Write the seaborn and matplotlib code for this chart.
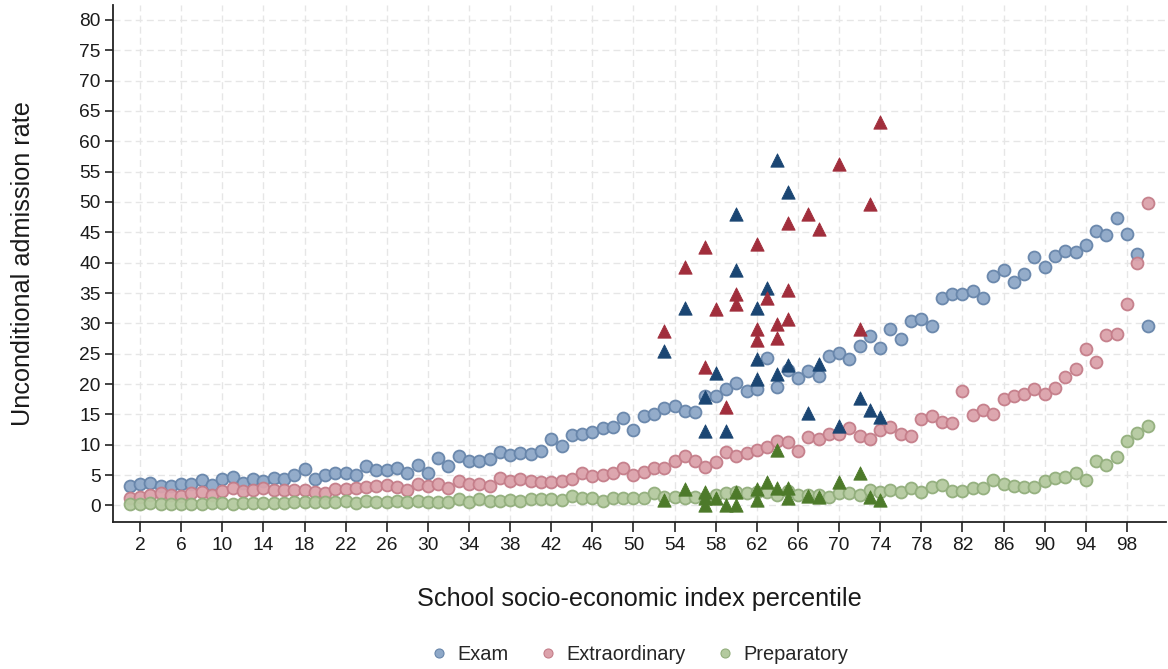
import matplotlib
matplotlib.use("Agg")
import matplotlib.pyplot as plt
from matplotlib.lines import Line2D
import numpy as np
import pandas as pd
import seaborn as sns

# School socio-economic index percentile (1..100)
percentile = list(range(1, 101))

# Unconditional admission rate by track, one value per percentile
exam = [3.2, 3.5, 3.7, 3.2, 3.2, 3.5, 3.6, 4.2, 3.3, 4.3,
        4.7, 3.7, 4.3, 4.0, 4.5, 4.3, 5.0, 6.0, 4.4, 5.0,
        5.4, 5.3, 5.0, 6.5, 5.8, 5.8, 6.2, 5.4, 6.6, 5.4,
        7.8, 6.5, 8.2, 7.3, 7.4, 7.6, 8.8, 8.3, 8.7, 8.4,
        8.9, 10.9, 9.8, 11.6, 11.8, 12.1, 12.7, 12.9, 14.4, 12.4,
        14.8, 15.1, 16.1, 16.4, 15.5, 15.4, 18.1, 18.0, 19.2, 20.2,
        18.8, 19.2, 24.3, 19.5, 22.4, 21.0, 22.2, 21.4, 24.7, 25.1,
        24.2, 26.2, 28.0, 26.0, 29.1, 27.4, 30.4, 30.8, 29.5, 34.2,
        34.8, 34.9, 35.3, 34.2, 37.8, 38.8, 36.9, 38.1, 41.0, 39.3,
        41.1, 41.9, 41.8, 42.9, 45.2, 44.6, 47.3, 44.8, 41.4, 29.6]

extraordinary = [1.2, 1.4, 1.8, 2.0, 1.8, 1.5, 2.1, 2.3, 1.8, 2.4,
                 2.8, 2.4, 2.5, 2.8, 2.5, 2.5, 2.6, 2.6, 2.3, 2.1,
                 2.7, 2.7, 2.9, 3.1, 3.2, 3.3, 3.1, 2.5, 3.5, 3.2,
                 3.5, 2.9, 4.0, 3.6, 3.6, 3.2, 4.6, 4.1, 4.3, 4.0,
                 3.8, 3.9, 4.0, 4.4, 5.4, 4.9, 5.0, 5.4, 6.1, 5.1,
                 5.5, 6.2, 6.2, 7.3, 8.2, 7.3, 6.4, 7.1, 8.8, 8.2,
                 8.7, 9.2, 9.6, 10.7, 10.5, 9.0, 11.3, 11.0, 11.8, 11.8,
                 12.7, 11.5, 10.9, 12.4, 12.9, 11.8, 11.4, 14.2, 14.8, 13.7,
                 13.6, 18.8, 14.9, 15.8, 15.1, 17.5, 18.1, 18.4, 19.2, 18.3,
                 19.3, 21.1, 22.5, 25.8, 23.6, 28.1, 28.3, 33.2, 39.9, 49.8]

preparatory = [0.2, 0.3, 0.4, 0.3, 0.3, 0.2, 0.2, 0.3, 0.4, 0.4,
               0.3, 0.4, 0.4, 0.4, 0.4, 0.4, 0.5, 0.5, 0.5, 0.5,
               0.6, 0.7, 0.4, 0.7, 0.6, 0.6, 0.7, 0.5, 0.8, 0.6,
               0.6, 0.6, 1.0, 0.6, 1.0, 0.7, 0.8, 0.9, 0.8, 1.0,
               1.0, 1.0, 0.9, 1.6, 1.2, 1.2, 0.7, 1.2, 1.3, 1.2,
               1.2, 2.0, 1.4, 1.4, 1.3, 1.4, 1.2, 1.8, 2.1, 2.3,
               2.0, 2.3, 2.3, 1.8, 2.4, 1.7, 1.8, 1.7, 1.4, 2.0,
               2.0, 1.7, 2.5, 2.3, 2.5, 2.3, 2.8, 2.3, 3.0, 3.3,
               2.4, 2.4, 2.8, 2.8, 4.2, 3.5, 3.2, 3.1, 3.1, 4.0,
               4.6, 4.7, 5.3, 4.2, 7.3, 6.6, 8.0, 10.6, 12.0, 13.1]

# Individual schools shown as triangles
exam_tri_pct = [53, 55, 57, 57, 58, 59, 60, 60, 62, 62, 62, 63, 64, 64,
                65, 65, 67, 68, 70, 72, 73, 74]
exam_tri = [25.5, 32.6, 17.9, 12.2, 21.8, 12.2, 48.0, 38.8, 32.6, 24.2, 20.9,
            35.8, 56.9, 21.7, 51.7, 23.2, 15.2, 23.3, 13.1, 17.7, 15.8, 14.5]

extra_tri_pct = [53, 55, 57, 57, 58, 59, 60, 60, 62, 62, 62, 63, 64, 64,
                 65, 65, 65, 67, 68, 70, 72, 73, 74]
extra_tri = [28.8, 39.3, 42.6, 22.8, 32.4, 16.2, 34.9, 33.2, 43.0, 29.1, 27.3,
             34.1, 29.9, 27.6, 46.6, 35.5, 30.7, 48.0, 45.5, 56.3, 29.1, 49.6, 63.2]

prep_tri_pct = [53, 55, 57, 57, 57, 58, 59, 60, 60, 62, 62, 63, 64, 64,
                65, 65, 67, 68, 70, 72, 73, 74]
prep_tri = [0.9, 2.7, 2.3, 1.2, 0.1, 1.3, 0.1, 0.1, 2.3, 2.7, 0.9, 3.8, 9.1,
            2.9, 2.9, 1.2, 1.6, 1.4, 3.9, 5.3, 1.4, 0.9]

tracks = ["Exam", "Extraordinary", "Preparatory"]
x_ticks = list(range(2, 100, 4))
y_ticks = list(range(0, 81, 5))

face = {"Exam": "#8ea8c8", "Extraordinary": "#dca2ab", "Preparatory": "#b4ca9f"}
edge = {"Exam": "#6785aa", "Extraordinary": "#c47d89", "Preparatory": "#92ae7c"}
tri_color = {"Exam": "#1b4673", "Extraordinary": "#a12e3c", "Preparatory": "#4d7a2a"}

circles = pd.DataFrame({
    "percentile": percentile * 3,
    "rate": exam + extraordinary + preparatory,
    "track": np.repeat(tracks, len(percentile)),
})
triangles = pd.DataFrame({
    "percentile": exam_tri_pct + extra_tri_pct + prep_tri_pct,
    "rate": exam_tri + extra_tri + prep_tri,
    "track": ["Exam"] * len(exam_tri) + ["Extraordinary"] * len(extra_tri)
             + ["Preparatory"] * len(prep_tri),
})

sns.set_theme(style="white")
plt.rcParams["font.family"] = ["Liberation Sans", "DejaVu Sans"]

fig = plt.figure(figsize=(11.68, 6.69), dpi=100)
ax = fig.add_axes([0.097, 0.2202, 0.9013, 0.7723])

for t in tracks:
    sub = circles[circles["track"] == t]
    sns.scatterplot(data=sub, x="percentile", y="rate", ax=ax, marker="o",
                    s=74, color=face[t], edgecolor=edge[t], linewidth=1.3,
                    alpha=0.95, legend=False, zorder=3)

for t in tracks:
    sub = triangles[triangles["track"] == t]
    sns.scatterplot(data=sub, x="percentile", y="rate", ax=ax, marker="^",
                    s=92, color=tri_color[t], edgecolor=tri_color[t],
                    linewidth=0.6, legend=False, zorder=4)

ax.set_xlim(-0.6, 101.8)
ax.set_ylim(-2.67, 82.45)
ax.set_xticks(x_ticks)
ax.set_yticks(y_ticks)
ax.tick_params(axis="x", length=7, width=1.2, pad=4, labelsize=13.8,
               color="#222222", labelcolor="#1a1a1a", bottom=True)
ax.tick_params(axis="y", length=5.5, width=1.2, pad=3.5, labelsize=13.8,
               color="#222222", labelcolor="#1a1a1a", left=True)

ax.grid(True, color="#e6e6e6", linestyle=(0, (5, 3)), linewidth=1.0, zorder=0)
ax.set_axisbelow(True)
for side in ["top", "right"]:
    ax.spines[side].set_visible(False)
for side in ["left", "bottom"]:
    ax.spines[side].set_color("#222222")
    ax.spines[side].set_linewidth(1.3)

ax.set_xlabel("School socio-economic index percentile", fontsize=18.2,
              labelpad=24, color="#1a1a1a")
ax.set_ylabel("Unconditional admission rate", fontsize=18.2, labelpad=32,
              color="#1a1a1a")

handles = [Line2D([0], [0], marker="o", linestyle="", markersize=6.5,
                  markerfacecolor=face[t], markeredgecolor=edge[t],
                  markeredgewidth=0.8, label=t) for t in tracks]
ax.legend(handles=handles, loc="center", bbox_to_anchor=(0.5, -0.258),
          ncol=3, frameon=False, fontsize=14.4, handlelength=0.8,
          handletextpad=0.5, columnspacing=1.6)

fig.savefig("out.png", dpi=100, facecolor="white")
